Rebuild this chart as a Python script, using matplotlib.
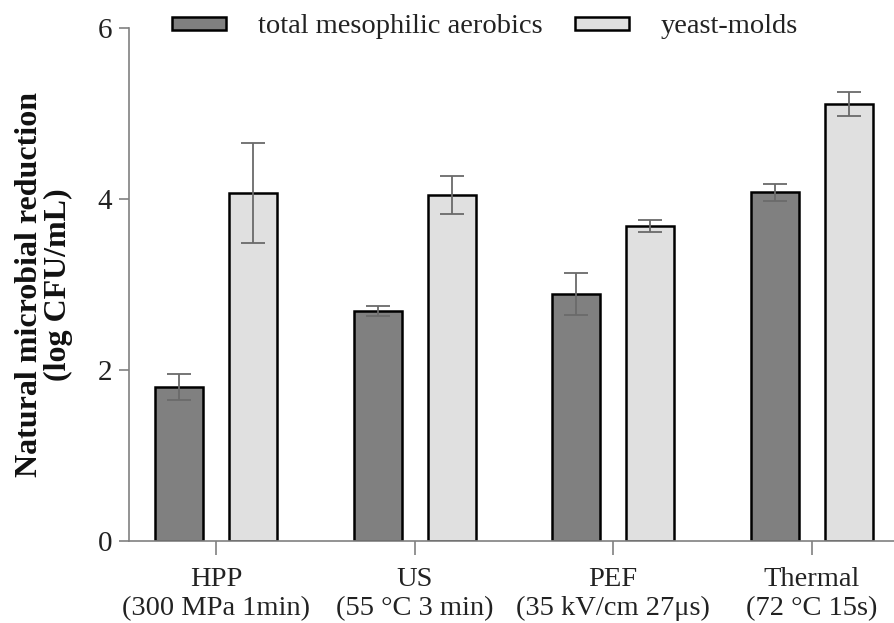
import matplotlib
matplotlib.use("Agg")
import matplotlib.pyplot as plt
import numpy as np

categories = ["HPP\n(300 MPa 1min)", "US\n(55 °C 3 min)", "PEF\n(35 kV/cm 27μs)", "Thermal\n(72 °C 15s)"]
series_names = ["total mesophilic aerobics", "yeast-molds"]
aerobics = [1.80, 2.69, 2.89, 4.08]
aerobics_err = [0.15, 0.06, 0.25, 0.10]
yeast = [4.07, 4.05, 3.68, 5.11]
yeast_err = [0.58, 0.22, 0.07, 0.14]
yticks = [0, 2, 4, 6]

plt.rcParams['font.family'] = ['Liberation Serif', 'DejaVu Serif']

fig = plt.figure(figsize=(8.95, 6.23), dpi=100)
ax = fig.add_axes([0.1441, 0.1316, 0.8559, 0.8234])

x = np.arange(len(categories))
w = 0.242
off = 0.187
edge = 1.8
ekw = dict(ecolor="#6a6a6a", elinewidth=1.3, capsize=8.8, capthick=1.3)

ax.bar(x - off, aerobics, w, color="#808080", edgecolor="black", linewidth=edge,
       label=series_names[0], zorder=2)
ax.bar(x + off, yeast, w, color="#e0e0e0", edgecolor="black", linewidth=edge,
       label=series_names[1], zorder=2)
ax.errorbar(x - off, aerobics, yerr=aerobics_err, fmt="none", zorder=3, **ekw)
ax.errorbar(x + off, yeast, yerr=yeast_err, fmt="none", zorder=3, **ekw)

ax.set_xlim(-0.44, 3.42)
ax.set_ylim(0, 6)
ax.set_yticks(yticks)
ax.set_yticklabels([str(t) for t in yticks])
ax.set_xticks(x)
ax.set_xticklabels(categories, linespacing=1.2)

for s in ["top", "right"]:
    ax.spines[s].set_visible(False)
for s in ["left", "bottom"]:
    ax.spines[s].set_color("#808080")
    ax.spines[s].set_linewidth(1.2)

ax.tick_params(axis="y", length=7, width=1.2, color="#808080", labelsize=21, pad=5)
ax.tick_params(axis="x", length=10, width=1.2, color="#808080", labelsize=20.5, pad=9)
for t in ax.get_yticklabels() + ax.get_xticklabels():
    t.set_color("#222222")

ax.set_ylabel("Natural microbial reduction\n(log CFU/mL)", fontsize=23, fontweight="bold",
              linespacing=1.0, labelpad=18, color="#111111")

leg = fig.legend(loc="center", bbox_to_anchor=(0.542, 0.957), ncol=2, frameon=False,
                 prop={"family": "Liberation Serif", "size": 20.5},
                 handlelength=1.9, handleheight=0.32, handletextpad=1.1,
                 columnspacing=1.15)
for t in leg.get_texts():
    t.set_color("#222222")

fig.savefig("out.png", dpi=100)
